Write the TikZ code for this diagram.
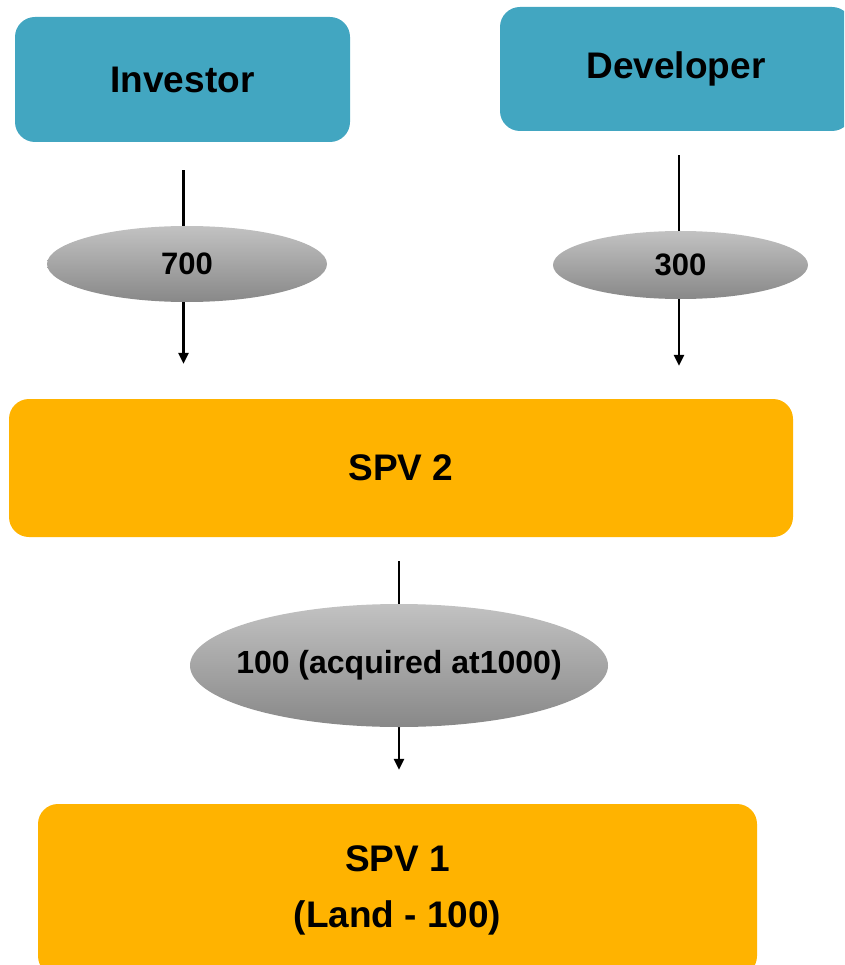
\documentclass[tikz,border=0pt]{standalone}
\usepackage{fontspec}
\setmainfont{Liberation Sans}
\usetikzlibrary{shapes.geometric,arrows.meta}
\pgfdeclarelayer{bg}
\pgfsetlayers{bg,main}
\definecolor{partyteal}{RGB}{66,166,193}
\definecolor{spvorange}{RGB}{255,179,0}
\definecolor{shadetop}{RGB}{194,194,194}
\definecolor{shadebot}{RGB}{136,136,136}
\newcommand{\ellipsetext}[1]{\makebox[0pt]{#1}}
\tikzset{
  party/.style={draw=none, fill=partyteal, rounded corners=20pt, inner sep=0pt,
    font=\bfseries\fontsize{37}{44}\selectfont},
  spvbox/.style={draw=none, fill=spvorange, rounded corners=20pt, inner sep=0pt,
    align=center, font=\bfseries\fontsize{37}{56}\selectfont},
  amount/.style={ellipse, draw=none, top color=shadetop, bottom color=shadebot,
    inner sep=0pt, font=\bfseries\fontsize{31}{36}\selectfont},
  flow/.style={line width=2.7pt, -{Triangle[length=11pt,width=10pt]}}
}
\begin{document}
\begin{tikzpicture}[x=1pt,y=-1pt]
\useasboundingbox (0,0) rectangle (844,965);
\clip (0,0) rectangle (844,965);

% parties
\node[party, minimum width=335pt, minimum height=125pt] (inv) at (182.5,79.5) {Investor};
\node[party, minimum width=352pt, minimum height=124pt] (dev) at (676,69) {Developer};

% special purpose vehicles
\node[spvbox, minimum width=784pt, minimum height=138pt] (spv2) at (401,468) {SPV 2};
\node[spvbox, minimum width=719pt, minimum height=172pt] (spv1) at (397.5,890) {SPV 1\\(Land - 100)};

% amounts
\node[amount, minimum width=280pt, minimum height=76pt] (e1) at (187,264) {\ellipsetext{700}};
\node[amount, minimum width=255pt, minimum height=68pt] (e2) at (680.5,265) {\ellipsetext{300}};
\node[amount, minimum width=418pt, minimum height=123pt, font=\bfseries\fontsize{32}{36}\selectfont] (e3) at (399,665.5) {\ellipsetext{100 (acquired at1000)}};

% flows
\begin{pgfonlayer}{bg}
\draw[flow, shorten <=28pt, shorten >=35pt] ([xshift=1pt]inv.south) -- ([xshift=1pt]inv.south |- spv2.north);
\draw[flow, shorten <=24pt, shorten >=33pt] ([xshift=3pt]dev.south) -- ([xshift=3pt]dev.south |- spv2.north);
\draw[flow, shorten <=24pt, shorten >=34pt] ([xshift=-2pt]spv2.south) -- ([xshift=-2pt]spv2.south |- spv1.north);
\end{pgfonlayer}
\end{tikzpicture}
\end{document}
